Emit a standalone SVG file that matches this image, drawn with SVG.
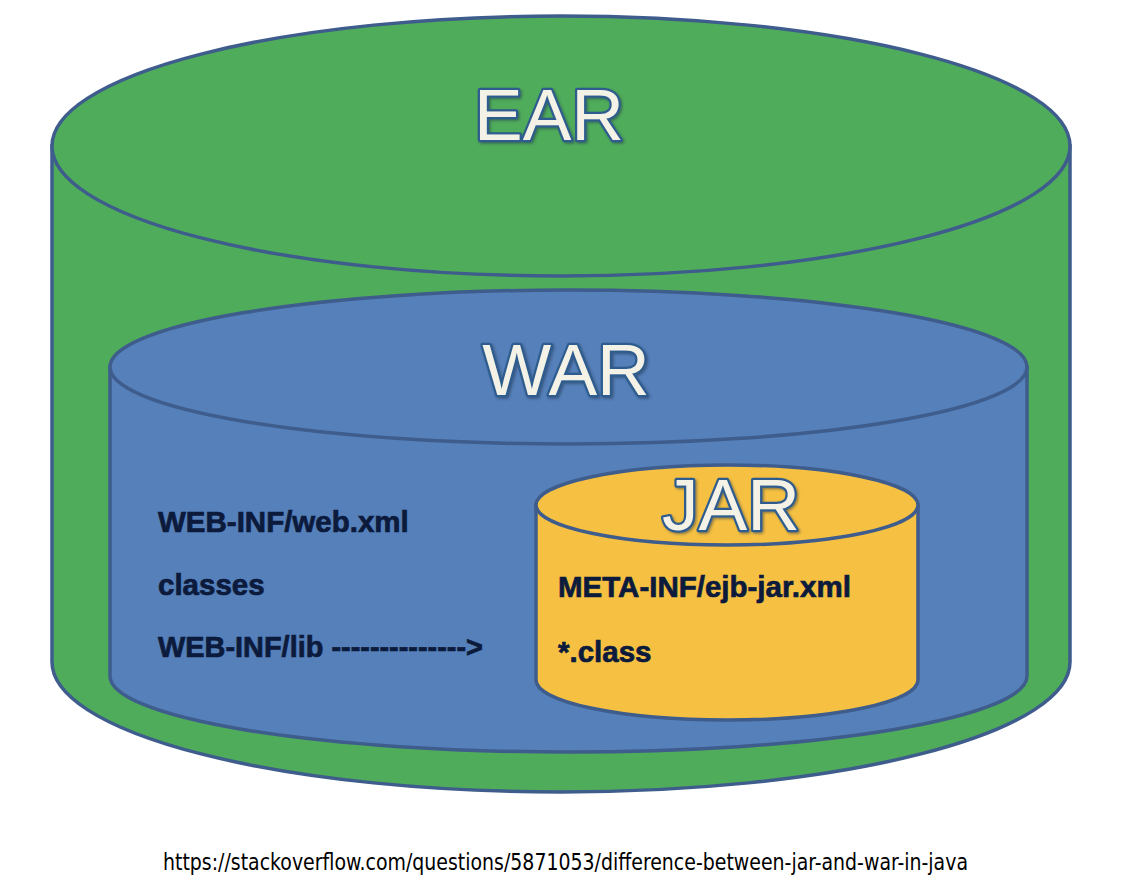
<svg xmlns="http://www.w3.org/2000/svg" width="1126" height="892" viewBox="0 0 1126 892">
<style>
.shape{stroke:#3E5C8C;stroke-width:3.5}
.ear{fill:#4FAC5B}
.war{fill:#5580BA}
.jar{fill:#F6C142}
.title{font-family:"Liberation Sans",Arial,sans-serif;font-size:73px;fill:#F4F2E6;stroke:#2D5C8E;stroke-width:4.5;paint-order:stroke;stroke-linejoin:round;text-anchor:middle}
.item{font-family:"Liberation Sans",Arial,sans-serif;font-weight:bold;font-size:29.5px;fill:#0C1A3C;stroke:#0C1A3C;stroke-width:0.7}
.url{font-family:"DejaVu Sans Condensed","Liberation Sans",sans-serif;font-size:23px;fill:#000}
</style>
<defs>
<filter id="sh" x="-10%" y="-10%" width="130%" height="130%">
<feDropShadow dx="1.5" dy="1.5" stdDeviation="1.2" flood-color="#1c2f4a" flood-opacity="0.5"/>
</filter>
</defs>
<rect width="1126" height="892" fill="#ffffff"/>
<g id="ear">
<path class="shape ear" d="M52,146 L52,662 A509,130 0 0 0 1070,662 L1070,146 Z"/>
<ellipse class="shape ear" cx="561" cy="146" rx="509" ry="130"/>
<text class="title" x="549" y="140" filter="url(#sh)">EAR</text>
</g>
<g id="war">
<path class="shape war" d="M110,367 L110,676 A458.5,76 0 0 0 1027,676 L1027,367 Z"/>
<ellipse class="shape war" cx="568.5" cy="367" rx="458.5" ry="77"/>
<text class="title" x="566" y="395" filter="url(#sh)">WAR</text>
<text class="item" x="158" y="532">WEB-INF/web.xml</text>
<text class="item" x="158" y="595">classes</text>
<text class="item" x="158" y="657" textLength="325" lengthAdjust="spacingAndGlyphs">WEB-INF/lib --------------&gt;</text>
</g>
<g id="jar">
<path class="shape jar" d="M536,505 L536,680 A191,40 0 0 0 918,680 L918,505 Z"/>
<ellipse class="shape jar" cx="727" cy="505" rx="191" ry="40"/>
<text class="title" x="731" y="530" filter="url(#sh)">JAR</text>
<text class="item" x="558" y="597">META-INF/ejb-jar.xml</text>
<text class="item" x="558" y="662">*.class</text>
</g>
<g id="connectors"></g>
<text class="url" x="163" y="870" textLength="805" lengthAdjust="spacingAndGlyphs">https://stackoverflow.com/questions/5871053/difference-between-jar-and-war-in-java</text>
</svg>
